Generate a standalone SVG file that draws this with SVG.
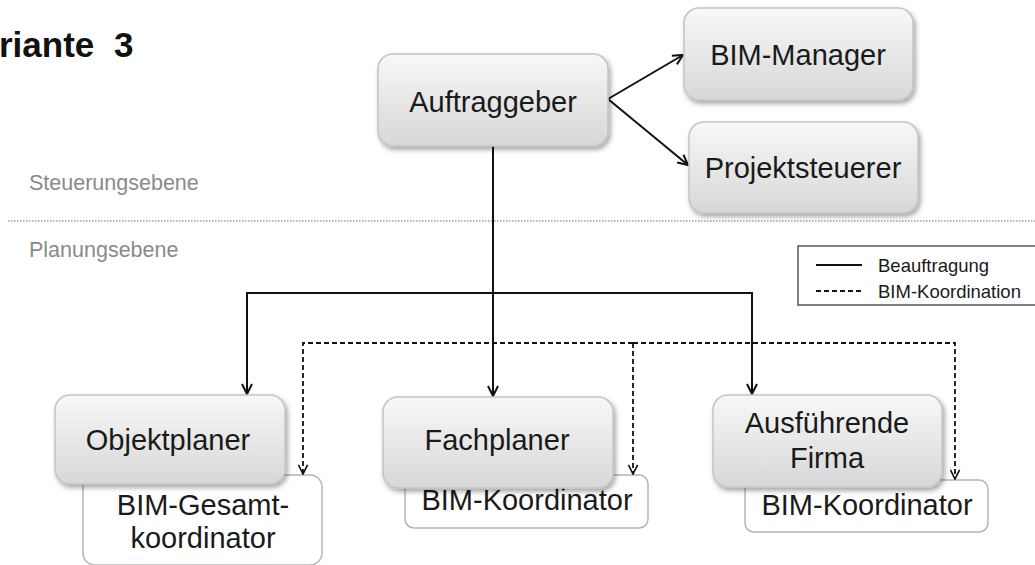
<svg xmlns="http://www.w3.org/2000/svg" width="1035" height="565" viewBox="0 0 1035 565">
<defs>
<linearGradient id="g" x1="0" y1="0" x2="0" y2="1">
<stop offset="0" stop-color="#f8f8f8"/>
<stop offset="1" stop-color="#d7d7d7"/>
</linearGradient>
<filter id="sh" x="-10%" y="-10%" width="125%" height="135%">
<feDropShadow dx="2" dy="3" stdDeviation="2.5" flood-color="#000" flood-opacity="0.35"/>
</filter>
<marker id="ah" viewBox="0 0 12 12" refX="11" refY="6" markerWidth="12" markerHeight="12" markerUnits="userSpaceOnUse" orient="auto">
<path d="M1,1 L11,6 L1,11" fill="none" stroke="#111" stroke-width="2"/>
</marker>
<marker id="ahd" viewBox="0 0 12 12" refX="11" refY="6" markerWidth="11" markerHeight="11" markerUnits="userSpaceOnUse" orient="auto">
<path d="M1,1 L11,6 L1,11" fill="none" stroke="#111" stroke-width="1.8"/>
</marker>
</defs>
<style>
.node{fill:url(#g);stroke:#c4c4c4;stroke-width:1.5;filter:url(#sh)}
.sub{fill:#fff;stroke:#b5b5b5;stroke-width:1.5}
.t{font-family:"Liberation Sans",Arial,sans-serif;font-size:29px;fill:#1a1a1a;text-anchor:middle}
.lvl{font-family:"Liberation Sans",Arial,sans-serif;font-size:21.5px;fill:#8a8a8a}
.leg{font-family:"Liberation Sans",Arial,sans-serif;font-size:18.5px;fill:#1a1a1a}
.solid{fill:none;stroke:#111;stroke-width:2}
.dash{fill:none;stroke:#111;stroke-width:1.8;stroke-dasharray:5 3}
</style>
<rect width="1035" height="565" fill="#fff"/>

<g id="title">
<text x="-1" y="57" font-family="'Liberation Sans',Arial,sans-serif" font-size="35" font-weight="bold" fill="#111">riante<tspan x="114">3</tspan></text>
</g>

<g id="levels">
<line x1="8" y1="221" x2="1035" y2="221" stroke="#9a9a9a" stroke-width="1.5" stroke-dasharray="1.5 1.5"/>
<text class="lvl" x="29" y="190">Steuerungsebene</text>
<text class="lvl" x="29" y="257">Planungsebene</text>
</g>

<g id="legend">
<rect x="798" y="246" width="240" height="59" fill="#fff" stroke="#555" stroke-width="1.5"/>
<line x1="816" y1="265" x2="862" y2="265" stroke="#111" stroke-width="2"/>
<line x1="816" y1="291" x2="862" y2="291" stroke="#111" stroke-width="2" stroke-dasharray="5 3"/>
<text class="leg" x="878" y="272">Beauftragung</text>
<text class="leg" x="878" y="298">BIM-Koordination</text>
</g>

<g id="sub-objekt">
<rect class="sub" x="83" y="475" width="239" height="90" rx="12"/>
<text class="t" x="203" y="515">BIM-Gesamt-</text>
<text class="t" x="203" y="548">koordinator</text>
</g>
<g id="sub-fach">
<rect class="sub" x="405" y="475" width="243" height="53" rx="9"/>
<text class="t" x="527" y="510">BIM-Koordinator</text>
</g>
<g id="sub-firma">
<rect class="sub" x="745" y="480" width="243" height="52" rx="9"/>
<text class="t" x="867" y="515">BIM-Koordinator</text>
</g>

<g id="connectors">
<line class="solid" x1="608" y1="99" x2="683" y2="55" marker-end="url(#ah)"/>
<line class="solid" x1="608" y1="99" x2="688" y2="165" marker-end="url(#ah)"/>
<line class="solid" x1="493" y1="146" x2="493" y2="396" marker-end="url(#ah)"/>
<polyline class="solid" points="493,293 247,293 247,394" marker-end="url(#ah)"/>
<polyline class="solid" points="493,293 752,293 752,394" marker-end="url(#ah)"/>
<polyline class="dash" points="633,343 303,343 303,474" marker-end="url(#ahd)"/>
<polyline class="dash" points="633,343 955,343 955,479" marker-end="url(#ahd)"/>
<line class="dash" x1="633" y1="343" x2="633" y2="474" marker-end="url(#ahd)"/>
</g>

<g id="auftraggeber">
<rect class="node" x="378" y="54" width="230" height="92" rx="15"/>
<text class="t" x="493" y="112">Auftraggeber</text>
</g>
<g id="bim-manager">
<rect class="node" x="684" y="8" width="229" height="92" rx="15"/>
<text class="t" x="798" y="65">BIM-Manager</text>
</g>
<g id="projektsteuerer">
<rect class="node" x="689" y="122" width="229" height="91" rx="15"/>
<text class="t" x="803" y="178">Projektsteuerer</text>
</g>
<g id="objektplaner">
<rect class="node" x="55" y="395" width="230" height="89" rx="15"/>
<text class="t" x="168" y="450">Objektplaner</text>
</g>
<g id="fachplaner">
<rect class="node" x="383" y="397" width="230" height="91" rx="15"/>
<text class="t" x="497" y="450">Fachplaner</text>
</g>
<g id="firma">
<rect class="node" x="713" y="395" width="229" height="92" rx="15"/>
<text class="t" x="827" y="433">Ausführende</text>
<text class="t" x="827" y="468">Firma</text>
</g>
</svg>
